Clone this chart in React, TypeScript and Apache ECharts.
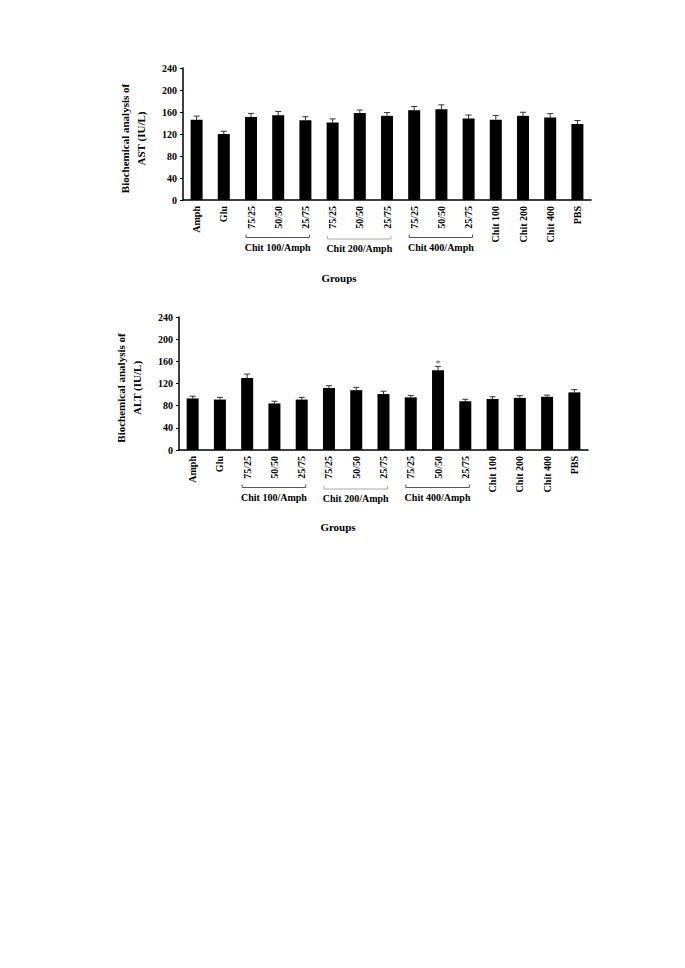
import React, { useEffect, useRef } from "react";
import * as echarts from "echarts";

const categories = ["Amph", "Glu", "75/25", "50/50", "25/75", "75/25", "50/50", "25/75", "75/25", "50/50", "25/75", "Chit 100", "Chit 200", "Chit 400", "PBS"];
const astValues = [146, 120, 151, 154, 145, 141, 158, 153, 163, 165, 148, 146, 153, 150, 138];
const astErrors = [6.5, 5, 6.5, 7, 6.5, 6.5, 5.5, 6, 7, 8, 6.5, 7.5, 6.5, 7, 6.5];
const altValues = [93, 91, 130, 84, 91, 112, 108, 101, 95, 144, 88, 92, 94, 96, 104];
const altErrors = [4, 4, 7, 4, 4, 4, 5, 5, 3.5, 7, 3.5, 4, 4, 3, 5];
const starIndex = 9;
const groupRanges = [[2, 4], [5, 7], [8, 10]];
const groupNames = ["Chit 100/Amph", "Chit 200/Amph", "Chit 400/Amph"];
const groupColors = ["#555", "#aaa", "#555"];
const yTicks = { min: 0, max: 240, interval: 40 };

const FONT = "'Liberation Serif', 'Times New Roman', serif";

export default function App() {
  const ref = useRef<HTMLDivElement>(null);
  useEffect(() => {
    if (!ref.current) return;
    const chart = echarts.init(ref.current, null, { renderer: "svg" });

    const grids = [
      { left: 183, top: 68, width: 408, height: 132 },
      { left: 179, top: 317, width: 409, height: 133 },
    ];
    const yNames = ["Biochemical analysis of\nAST (IU/L)", "Biochemical analysis of\nALT (IU/L)"];

    const xAxes = grids.map((_, i) => ({
      type: "category",
      gridIndex: i,
      data: categories,
      axisTick: { show: false },
      axisLine: { lineStyle: { color: "#000", width: 1.5 } },
      axisLabel: {
        interval: 0,
        rotate: 90,
        margin: 6,
        fontSize: 10,
        fontWeight: "bold",
        fontFamily: FONT,
        color: "#000",
      },
    }));
    const yAxes = grids.map((_, i) => ({
      type: "value",
      gridIndex: i,
      min: yTicks.min,
      max: yTicks.max,
      interval: yTicks.interval,
      splitLine: { show: false },
      axisLine: { show: true, lineStyle: { color: "#000", width: 1.5 } },
      axisTick: { show: true, length: 3, lineStyle: { color: "#000" } },
      axisLabel: { margin: 6, fontSize: 10, fontWeight: "bold", fontFamily: FONT, color: "#000" },
      name: yNames[i],
      nameLocation: "middle",
      nameRotate: 90,
      nameGap: 34,
      nameTextStyle: { fontSize: 11, fontWeight: "bold", fontFamily: FONT, color: "#000", lineHeight: 16, padding: [0, 9, 0, 0] },
    }));

    const makeErr = (vals: number[], errs: number[], i: number) => ({
      type: "custom",
      xAxisIndex: i,
      yAxisIndex: i,
      clip: false,
      data: vals.map((v, k) => [k, v, errs[k]]),
      renderItem: (params: any, api: any) => {
        const x = api.value(0);
        const v = api.value(1);
        const e = api.value(2);
        const p0 = api.coord([x, v]);
        const p1 = api.coord([x, v + e]);
        return {
          type: "group",
          children: [
            { type: "line", shape: { x1: p0[0], y1: p0[1], x2: p1[0], y2: p1[1] }, style: { stroke: "#333", lineWidth: 1 } },
            { type: "line", shape: { x1: p1[0] - 3, y1: p1[1], x2: p1[0] + 3, y2: p1[1] }, style: { stroke: "#333", lineWidth: 1 } },
          ],
        };
      },
    });

    const makeBrackets = (i: number) => ({
      type: "custom",
      xAxisIndex: i,
      yAxisIndex: i,
      clip: false,
      silent: true,
      data: groupRanges.map((r) => [r[0], 0, r[1]]),
      renderItem: (params: any, api: any) => {
        const a = api.coord([api.value(0), 0]);
        const b = api.coord([api.value(2), 0]);
        const idx = params.dataIndex;
        const x0 = a[0] - 5;
        const x1 = b[0] + 4;
        const y = a[1] + 37.5 + (idx === 1 ? 1.5 : 0);
        return {
          type: "group",
          children: [
            {
              type: "polyline",
              shape: { points: [[x0, y - 3], [x0, y], [x1, y], [x1, y - 3]] },
              style: { stroke: groupColors[idx], lineWidth: 1, fill: "none" },
            },
            {
              type: "text",
              x: (x0 + x1) / 2,
              y: y + 9.5,
              style: {
                text: groupNames[idx],
                align: "center",
                verticalAlign: "middle",
                fontSize: 10,
                fontWeight: "bold",
                fontFamily: FONT,
                fill: "#000",
              },
            },
          ],
        };
      },
    });

    const altData = altValues.map((v, k) =>
      k === starIndex
        ? { value: v, label: { show: true, formatter: "*", position: "top", distance: 2, fontSize: 10, color: "#666", fontFamily: FONT } }
        : v
    );

    chart.setOption({
      animation: false,
      backgroundColor: "#fff",
      title: [
        { text: "Groups", left: 334, top: 267, textAlign: "center", textStyle: { fontSize: 11, fontWeight: "bold", fontFamily: FONT, color: "#000" } },
        { text: "Groups", left: 333, top: 516, textAlign: "center", textStyle: { fontSize: 11, fontWeight: "bold", fontFamily: FONT, color: "#000" } },
      ],
      grid: grids.map((g) => ({ ...g, containLabel: false })),
      xAxis: xAxes,
      yAxis: yAxes,
      series: [
        { type: "bar", xAxisIndex: 0, yAxisIndex: 0, data: astValues, barWidth: 12, itemStyle: { color: "#000" } },
        makeErr(astValues, astErrors, 0),
        makeBrackets(0),
        { type: "bar", xAxisIndex: 1, yAxisIndex: 1, data: altData, barWidth: 12, itemStyle: { color: "#000" } },
        makeErr(altValues, altErrors, 1),
        makeBrackets(1),
      ],
    });
    return () => chart.dispose();
  }, []);
  return <div ref={ref} style={{ position: "absolute", left: 0, top: 0, width: 685, height: 968 }} />;
}
